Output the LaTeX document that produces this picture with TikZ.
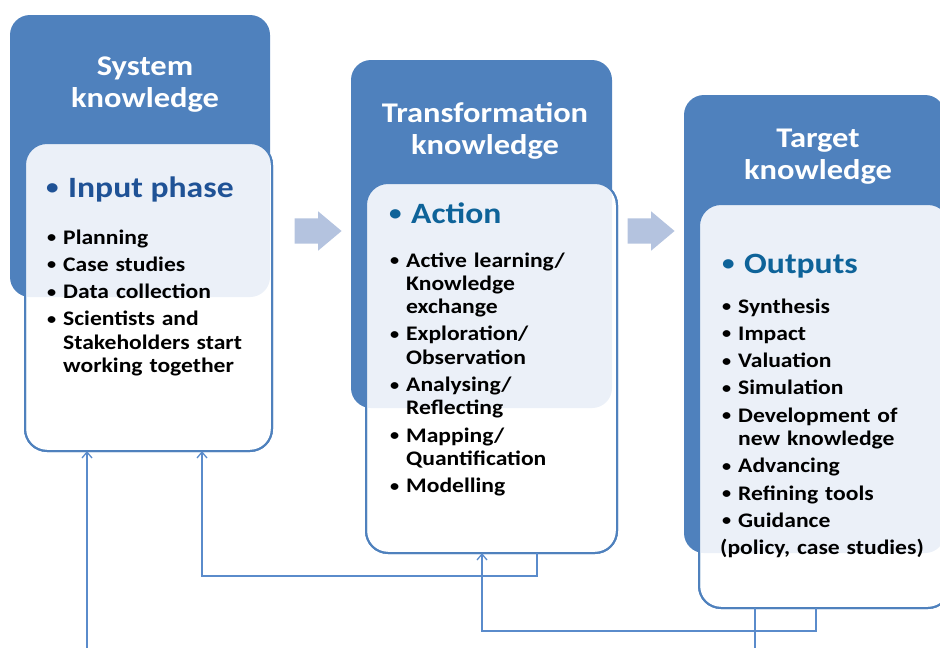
\documentclass[tikz,border=0pt]{standalone}
\usepackage{fontspec}
\setmainfont{Carlito}[FakeStretch=1.14]
\usetikzlibrary{positioning,shapes.arrows,arrows.meta}

\definecolor{kblue}{HTML}{4F81BD}
\definecolor{klight}{HTML}{EBF0F8}
\definecolor{karrow}{HTML}{B4C3DF}
\definecolor{kline}{HTML}{5A8BCB}
\definecolor{headA}{HTML}{1F5296}
\definecolor{headB}{HTML}{0E6399}

\newcommand{\itm}[1]{\hangindent=16pt\hangafter=1\noindent\makebox[16pt][l]{\raisebox{1.5pt}{\fontsize{16}{16}\selectfont\textbullet}}#1\par}
\newcommand{\hbul}{\makebox[22pt][l]{\raisebox{2.5pt}{\fontsize{22}{22}\selectfont\textbullet}}}

\begin{document}
\begin{tikzpicture}[x=1pt,y=-1pt,
	knowbox/.style={rectangle, rounded corners=20pt, fill=kblue, inner sep=0pt, outer sep=0pt},
	phasebox/.style={rectangle, rounded corners=22pt, fill=white, draw=kblue, line width=2pt, inner sep=0pt, outer sep=0pt},
	ktitle/.style={text=white, font=\bfseries\fontsize{28.5}{32}\selectfont, text width=250pt, align=center, inner sep=0pt, anchor=base},
	khead/.style={font=\bfseries\fontsize{29.5}{34}\selectfont, inner sep=0pt, anchor=base west},
	klist/.style={font=\bfseries\fontsize{20.7}{23.3}\selectfont, text width=225pt, inner sep=0pt, anchor=base west},
	flowarrow/.style={single arrow, fill=karrow, minimum width=39pt, minimum height=47pt, single arrow head extend=7pt, single arrow tip angle=80, inner xsep=0pt, inner ysep=12.5pt},
	backline/.style={draw=kline, line width=1.3pt, -{Straight Barb[length=6pt,width=10pt]}}
	]
	\useasboundingbox (0,0) rectangle (940,648);
	\clip (0,0) rectangle (940,648);
	
	\node[knowbox, minimum width=260pt, minimum height=282pt] (sys) at (140,156) {};
	\node[phasebox, minimum width=247pt, minimum height=308pt] (in1) at (148.5,297) {};
	\node[knowbox, minimum width=261pt, minimum height=348pt] (trans) at (481.5,234) {};
	\node[phasebox, minimum width=251pt, minimum height=370pt] (in2) at (491.5,368) {};
	\node[knowbox, minimum width=261pt, minimum height=458pt] (targ) at (814.5,324) {};
	\node[phasebox, minimum width=251pt, minimum height=404pt] (in3) at (824.5,406) {};
	
	\begin{scope}
		\clip[rounded corners=20pt] (sys.south west) rectangle (sys.north east);
		\fill[klight, rounded corners=22pt] (in1.south west) rectangle (in1.north east);
	\end{scope}
	\begin{scope}
		\clip[rounded corners=20pt] (trans.south west) rectangle (trans.north east);
		\fill[klight, rounded corners=22pt] (in2.south west) rectangle (in2.north east);
	\end{scope}
	\begin{scope}
		\clip[rounded corners=20pt] (targ.south west) rectangle (targ.north east);
		\fill[klight, rounded corners=22pt] (in3.south west) rectangle (in3.north east);
	\end{scope}
	\draw[kblue, line width=2pt, rounded corners=22pt] (in1.south west) rectangle (in1.north east);
	\draw[kblue, line width=2pt, rounded corners=22pt] (in2.south west) rectangle (in2.north east);
	\draw[kblue, line width=2pt, rounded corners=22pt] (in3.south west) rectangle (in3.north east);
	
	\node[ktitle] (sysT) at (145,75) {System\\knowledge};
	\node[ktitle] (transT) at (485,122) {Transformation\\knowledge};
	\node[ktitle] (targT) at (818,147) {Target\\knowledge};
	
	\node[khead, text=headA] (sysH) at (46,197) {\hbul Input phase};
	\node[khead, text=headB] (transH) at (389,223) {\hbul Action};
	\node[khead, text=headB] (targH) at (722,273) {\hbul Outputs};
	
	\node[klist] (sysL) at (47,244) {\setlength{\parskip}{4pt}%
		\itm{Planning}\itm{Case studies}\itm{Data collection}%
		\itm{Scientists and\newline Stakeholders start\newline working together}};
	\node[klist] (transL) at (390,267) {\setlength{\parskip}{4pt}%
		\itm{Active learning/\newline Knowledge\newline exchange}%
		\itm{Exploration/\newline Observation}\itm{Analysing/\newline Reflecting}%
		\itm{Mapping/\newline Quantification}\itm{Modelling}};
	\node[klist] (targL) at (722,313) {\setlength{\parskip}{4pt}%
		\itm{Synthesis}\itm{Impact}\itm{Valuation}\itm{Simulation}%
		\itm{Development of\newline new knowledge}\itm{Advancing}%
		\itm{Refining tools}\itm{Guidance}%
		\noindent\hspace*{-2pt}(policy, case studies)};
	
	\node[flowarrow] (arrA) at (310.5,231) {};
	\node[flowarrow] (arrB) at (643.5,231) {};
	
	\coordinate (feedA) at (87,648);
	\coordinate (feedB) at (755,648);
	\coordinate (loopA) at (537,576);
	\coordinate (loopB) at (202,576);
	\coordinate (loopC) at (816,631);
	\coordinate (loopD) at (482,631);
	\draw[backline] (feedA) -- (in1.south -| feedA);
	\draw[backline] (in2.south -| loopA) -- (loopA) -- (loopB) -- (in1.south -| loopB);
	\draw[backline] (in3.south -| loopC) -- (loopC) -- (loopD) -- (in2.south -| loopD);
	\draw[draw=kline, line width=1.3pt] (in3.south -| feedB) -- (feedB);
\end{tikzpicture}
\end{document}
